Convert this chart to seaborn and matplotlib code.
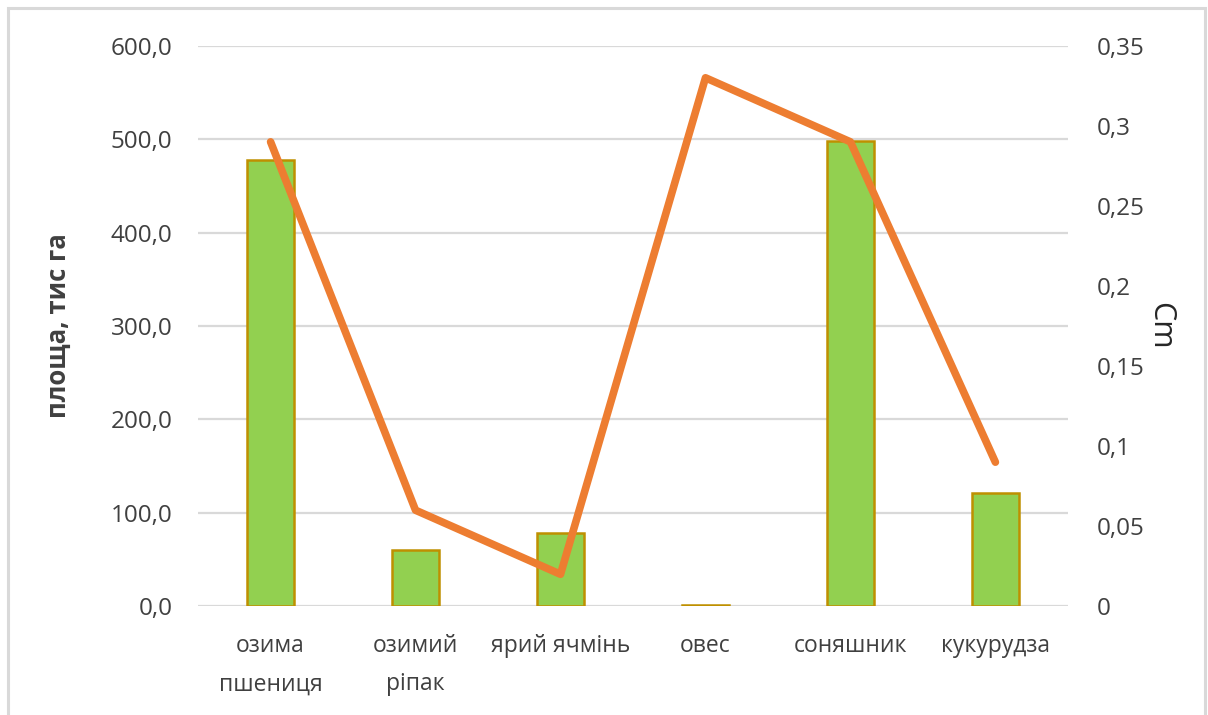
import matplotlib
matplotlib.use("Agg")
import matplotlib.pyplot as plt
from matplotlib.patches import Rectangle
from matplotlib.ticker import FuncFormatter, MultipleLocator
import seaborn as sns
import pandas as pd

# Crop areas and the Cm coefficient per crop
crops = ["озима\nпшениця", "озимий\nріпак", "ярий ячмінь", "овес", "соняшник", "кукурудза"]
area = [478.0, 60.0, 78.0, 1.5, 498.0, 121.0]
cm = [0.29, 0.06, 0.02, 0.33, 0.29, 0.09]

sns.set_theme(style="white")
plt.rcParams["font.family"] = ["Open Sans", "DejaVu Sans"]

text_color = "#404040"
grid_color = "#d9d9d9"

df = pd.DataFrame({"crop": crops, "area": area, "cm": cm})

fig = plt.figure(figsize=(12.08, 7.15), dpi=100)
ax = fig.add_axes([0.164, 0.152, 0.720, 0.784])

sns.barplot(data=df, x="crop", y="area", ax=ax, color="#92d050",
            saturation=1, width=0.32, edgecolor="#bf9000", linewidth=1.8)

ax.set_ylim(0, 600)
ax.set_xlim(-0.5, 5.5)
ax.yaxis.set_major_locator(MultipleLocator(100))
ax.yaxis.set_major_formatter(FuncFormatter(lambda v, p: f"{v:.1f}".replace(".", ",")))
ax.grid(axis="y", color=grid_color, linewidth=1.6)
ax.set_axisbelow(True)
for s in ax.spines.values():
    s.set_visible(False)
ax.tick_params(axis="x", length=0, labelsize=16.5, labelcolor=text_color, pad=20)
ax.tick_params(axis="y", length=0, labelsize=17.5, labelcolor=text_color, pad=18.5)
ax.set_xlabel("")
ax.set_ylabel("площа, тис га", fontsize=18.5, fontweight="bold", color=text_color, labelpad=28)

ax2 = ax.twinx()
sns.lineplot(data=df, x="crop", y="cm", ax=ax2, color="#ed7d31", linewidth=5.5,
             sort=False)
ax2.lines[0].set_solid_joinstyle("round")
ax2.set_ylim(0, 0.35)
ax2.yaxis.set_major_locator(MultipleLocator(0.05))
ax2.yaxis.set_major_formatter(
    FuncFormatter(lambda v, p: ("0" if abs(v) < 1e-9 else f"{v:.2f}".rstrip("0").replace(".", ","))))
for s in ax2.spines.values():
    s.set_visible(False)
ax2.tick_params(axis="y", length=0, labelsize=17.5, labelcolor=text_color, pad=21)
ax2.set_ylabel("Cm", fontsize=22, color="#262626", rotation=-90, ha="center", va="center")
ax2.yaxis.set_label_coords(1.106, 0.5)
ax2.grid(False)

for lbl in ax.get_xticklabels():
    lbl.set_linespacing(1.8)

# light frame around the chart area
fig.patches.append(Rectangle((8 / 1208, -10 / 715), 1197 / 1208, 717 / 715,
                             transform=fig.transFigure, fill=False,
                             edgecolor=grid_color, linewidth=2.2))

fig.savefig("out.png", dpi=100)
